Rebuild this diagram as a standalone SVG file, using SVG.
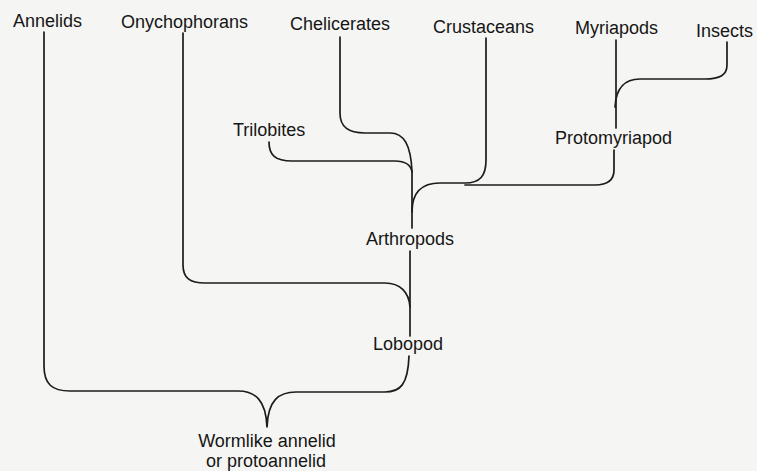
<svg xmlns="http://www.w3.org/2000/svg" width="757" height="471" viewBox="0 0 757 471">
<style>
.bg{fill:#f5f5f3}
.lbl{font-family:"Liberation Sans",Arial,sans-serif;font-size:18px;fill:#161616}
.ln{fill:none;stroke:#1c1c1c;stroke-width:1.7;stroke-linecap:round;stroke-linejoin:round}
</style>
<rect class="bg" x="0" y="0" width="757" height="471"/>
<g id="connectors">
<path class="ln" d="M44,32 V366 C44,384 52,391 70,391 H238 C255,391 266,400 267,427 C268,400 279,392 296,392 H385 C400,392 408,385 409,356"/>
<path class="ln" d="M183,33 V265 C183,278 190,283 205,283 H385 C400,283 409,292 410,307"/>
<path class="ln" d="M410,251 V336"/>
<path class="ln" d="M340,37 V113 C340,127 348,133 365,133 H390 C404,133 411,145 412,172"/>
<path class="ln" d="M269,142 C269,155 275,161 292,161 H395 C406,161 411,166 412,172 V228"/>
<path class="ln" d="M486,38 V160 C486,176 480,183 465,183 H440 C422,183 412,192 412,212"/>
<path class="ln" d="M614,150 V170 C614,180 608,185 595,185 H465"/>
<path class="ln" d="M616,40 V128"/>
<path class="ln" d="M727,42 V65 C727,75 720,79 705,79 H640 C625,79 616,88 615,107"/>
</g>
<g id="annelids"><text class="lbl" x="13" y="27">Annelids</text></g>
<g id="onychophorans"><text class="lbl" x="121" y="28">Onychophorans</text></g>
<g id="chelicerates"><text class="lbl" x="290" y="30">Chelicerates</text></g>
<g id="crustaceans"><text class="lbl" x="433" y="33">Crustaceans</text></g>
<g id="myriapods"><text class="lbl" x="575" y="34">Myriapods</text></g>
<g id="insects"><text class="lbl" x="696" y="37">Insects</text></g>
<g id="trilobites"><text class="lbl" x="233" y="136">Trilobites</text></g>
<g id="protomyriapod"><text class="lbl" x="555" y="144">Protomyriapod</text></g>
<g id="arthropods"><text class="lbl" x="366" y="245">Arthropods</text></g>
<g id="lobopod"><text class="lbl" x="373" y="350">Lobopod</text></g>
<g id="wormlike"><text class="lbl" x="267" y="447" text-anchor="middle">Wormlike annelid</text><text class="lbl" x="266" y="467" text-anchor="middle">or protoannelid</text></g>
</svg>
